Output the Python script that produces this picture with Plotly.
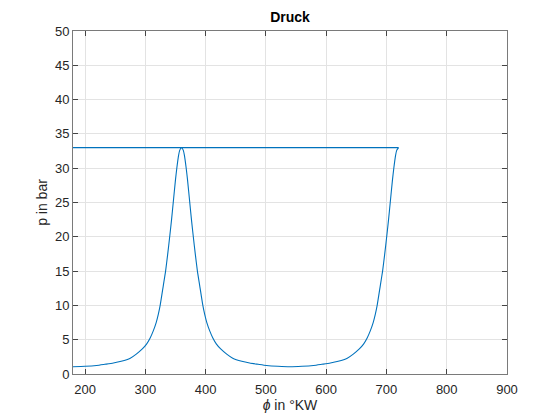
import plotly.graph_objects as go

# crank angle (deg) and pressure (bar)
phi_compress = [180, 200, 219, 233, 247, 260, 275, 285, 295, 302, 308, 313, 318, 321.5, 324.6,
                330, 333.6, 337, 340.4, 343.5, 346.3, 350, 352.2, 355, 357, 360]
p_compress = [1.05, 1.12, 1.25, 1.42, 1.6, 1.85, 2.3, 2.9, 3.65, 4.35, 5.25, 6.25, 7.5, 8.7, 10.0,
              13.0, 15.0, 17.4, 20.0, 22.5, 25.0, 28.3, 30.0, 31.8, 32.6, 33.0]

phi_expand = [363, 365, 367.8, 370, 373.7, 376.5, 379.6, 383, 386.4, 390, 395.4, 398.5, 402,
              407, 412, 418, 425, 435, 445, 460, 473, 487, 501, 520, 540]
p_expand = [32.6, 31.8, 30.0, 28.3, 25.0, 22.5, 20.0, 17.4, 15.0, 13.0, 10.0, 8.7, 7.5,
            6.25, 5.25, 4.35, 3.65, 2.9, 2.3, 1.85, 1.6, 1.42, 1.25, 1.12, 1.05]

phi_compress2 = [560, 579, 593, 607, 620, 635, 645, 655, 662, 668, 673, 678, 681.5, 684.6,
                 690, 693.6, 697, 700.4, 703.5, 706.3, 710, 712.2, 715, 717, 720]
p_compress2 = [1.12, 1.25, 1.42, 1.6, 1.85, 2.3, 2.9, 3.65, 4.35, 5.25, 6.25, 7.5, 8.7, 10.0,
               13.0, 15.0, 17.4, 20.0, 22.5, 25.0, 28.3, 30.0, 31.8, 32.6, 33.0]

# closing segment from the end of the cycle back to the start angle
phi_close = [720, 180]
p_close = [33.0, 33.0]

phi = phi_compress + phi_expand + phi_compress2
p = p_compress + p_expand + p_compress2

x_ticks = [200, 300, 400, 500, 600, 700, 800, 900]
y_ticks = [0, 5, 10, 15, 20, 25, 30, 35, 40, 45, 50]

font = "Liberation Sans, Arial, sans-serif"
axcol = "#262626"
blue = "#0072BD"

fig = go.Figure()
fig.add_trace(go.Scatter(x=phi, y=p, mode="lines",
                         line=dict(color=blue, width=1.1, shape="spline", smoothing=0.6),
                         hoverinfo="skip"))
fig.add_trace(go.Scatter(x=phi_close, y=p_close, mode="lines",
                         line=dict(color=blue, width=1.1), hoverinfo="skip"))

common = dict(showline=True, linecolor="#7a7a7a", linewidth=1, mirror="ticks",
              ticks="inside", ticklen=5, tickcolor="#444444", tickwidth=1,
              showgrid=True, gridcolor="#e3e3e3", gridwidth=1, zeroline=False,
              tickfont=dict(family=font, size=13, color=axcol))

fig.update_layout(
    width=560, height=420,
    margin=dict(l=65, r=61, t=23, b=54, autoexpand=False),
    paper_bgcolor="white", plot_bgcolor="white",
    showlegend=False,
    title=dict(text="<b>Druck</b>", x=0.5, xref="paper", xanchor="center",
               y=1 - 9 / 420, yref="container", yanchor="middle",
               font=dict(family=font, size=14, color="black")),
    xaxis=dict(range=[180, 900], tickvals=x_ticks, ticktext=[str(v) for v in x_ticks],
               ticklabelstandoff=3,
               title=dict(text="<i>\u03d5</i> in \u00b0KW", standoff=4,
                          font=dict(family=font, size=14, color=axcol)), **common),
    yaxis=dict(range=[0, 50], tickvals=y_ticks, ticktext=[str(v) for v in y_ticks],
               title=dict(text="p in bar", standoff=4,
                          font=dict(family=font, size=14, color=axcol)), **common),
)

fig.write_html("out.html")
